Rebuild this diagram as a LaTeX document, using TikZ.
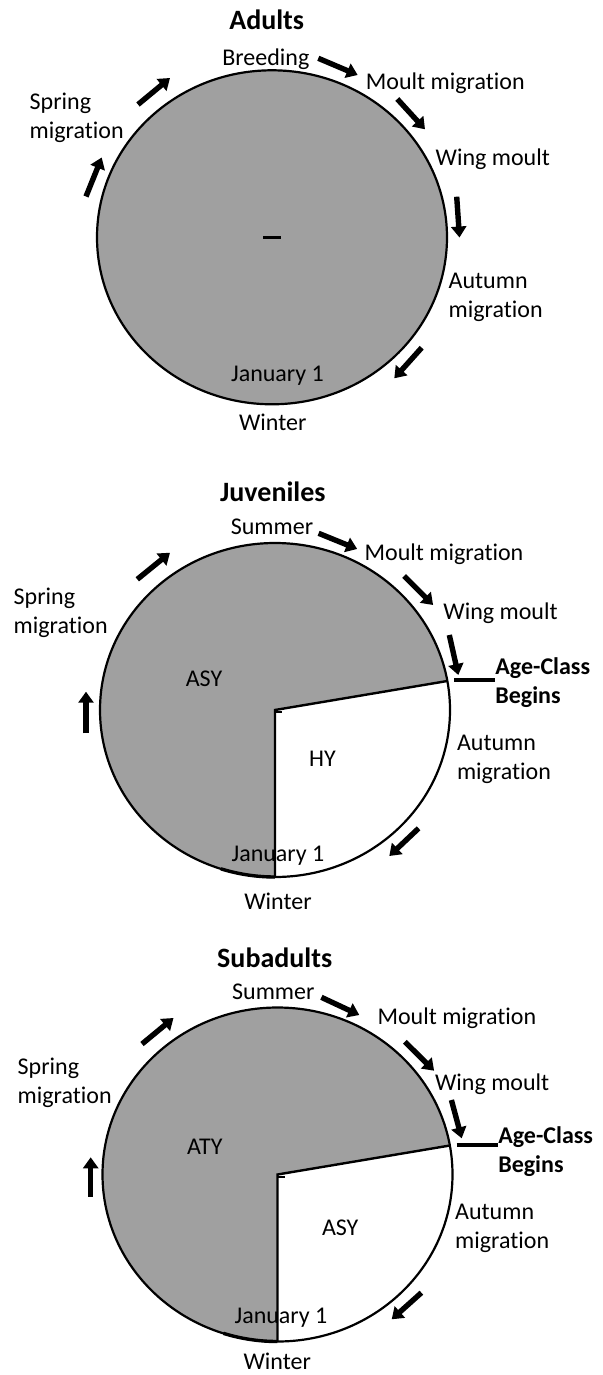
\documentclass[tikz,border=0pt]{standalone}
\usepackage{fontspec}
\setmainfont{Carlito}[Ligatures={NoCommon,NoContextual},Contextuals=NoAlternate]
\usetikzlibrary{arrows.meta}
\definecolor{piegray}{RGB}{160,160,160}
\newcommand{\mig}{migrat\kern0pt ion}
\begin{document}
\begin{tikzpicture}[x=0.5pt,y=-0.5pt,
  lbl/.style={font=\fontsize{12}{14.5}\selectfont, inner sep=0pt, text height=9pt, text depth=3pt},
  bold2/.style={font=\fontsize{12}{14.5}\selectfont\bfseries, inner sep=0pt, align=left, anchor=west},
  two/.style={font=\fontsize{12}{14.5}\selectfont, inner sep=0pt, align=left, anchor=west},
  ttl/.style={font=\fontsize{14}{17}\selectfont\bfseries, inner sep=0pt, text height=10pt, text depth=3pt},
  phase/.style={line width=2.7pt, -{Triangle[length=5.5pt,width=7.5pt]}},
  rim/.style={draw=black, line width=1.1pt},
  pieline/.style={draw=black, line width=1.2pt},
  tick/.style={draw=black, line width=0.8pt},
  ageline/.style={draw=black, line width=2pt}]
\useasboundingbox (0,0) rectangle (603,1375);

% ================= Panel 1: Adults =================
\coordinate (c1) at (272,237.3);
\fill[piegray] (c1) ellipse [x radius=87.5pt, y radius=83.5pt];
\draw[rim] (c1) ellipse [x radius=87.5pt, y radius=83.5pt];
\coordinate (d1a) at (263.3,237.3);
\coordinate (d1b) at (280.7,237.3);
\draw[line width=1.5pt] (d1a) -- (d1b);

\node[ttl] (t1) at (266.7,23) {Adults};
\node[lbl] (br1) at (265.8,59.3) {Breeding};
\node[lbl] (mm1) at (445.3,84) {Moult \mig};
\node[lbl] (wm1) at (492.8,159.3) {Wing moult};
\node[two] (am1) at (448.3,297.7) {Autumn\\\mig};
\node[lbl] (j1) at (277.5,375) {January 1};
\node[lbl] (w1) at (272.8,424) {Winter};
\node[two] (sm1) at (29.3,117.5) {Spring\\\mig};

\coordinate (a1s) at (318.3,58.3);  \coordinate (a1e) at (357.7,75);
\coordinate (a2s) at (397.3,99);    \coordinate (a2e) at (425,129.3);
\coordinate (a3s) at (456.7,196.7); \coordinate (a3e) at (459.5,237.5);
\coordinate (a4s) at (421.7,347.7); \coordinate (a4e) at (394.3,378.3);
\coordinate (a5s) at (86,196.5);    \coordinate (a5e) at (101.7,157.5);
\coordinate (a6s) at (138,104.5);   \coordinate (a6e) at (170,78);
\foreach \i in {1,...,6} {\draw[phase] (a\i s) -- (a\i e);}

% ================= Panel 2: Juveniles =================
\coordinate (c2) at (275,710);
\coordinate (r2) at ([shift={(10:87.5pt and 83.5pt)}]c2);
\coordinate (b2) at ([shift={(-90:87.5pt and 83.5pt)}]c2);
\fill[piegray] (c2) ellipse [x radius=87.5pt, y radius=83.5pt];
\fill[white] (c2) -- (r2) arc[start angle=10, end angle=-90, x radius=87.5pt, y radius=83.5pt] -- cycle;
\draw[pieline] (r2) -- (c2) -- (b2);
\draw[rim] (c2) ellipse [x radius=87.5pt, y radius=83.5pt];
\draw[line width=1.7pt] ([shift={(252:87.5pt and 83.5pt)}]c2) arc[start angle=252, end angle=270, x radius=87.5pt, y radius=83.5pt];
\coordinate (k2a) at (274,711.7); \coordinate (k2b) at (281.7,711.7);
\draw[tick] (k2a) -- (k2b);

\node[ttl] (t2) at (272.9,494) {Juveniles};
\node[lbl] (su2) at (272,528.3) {Summer};
\node[lbl] (mm2) at (444,554.3) {Moult \mig};
\node[lbl] (wm2) at (500.5,613.3) {Wing moult};
\node[bold2] (ac2) at (495,682.5) {Age-Class\\Begins};
\coordinate (l2a) at (454,680);
\draw[ageline] (l2a) -- (ac2.west |- l2a);
\node[lbl] (asy2) at (204,680) {ASY};
\node[lbl] (hy2) at (322.4,760) {HY};
\node[two] (am2) at (456.6,759.5) {Autumn\\\mig};
\node[lbl] (j2) at (278,855) {January 1};
\node[lbl] (w2) at (278,903) {Winter};
\node[two] (sm2) at (13.3,613.3) {Spring\\\mig};

\coordinate (b1s) at (318.6,533.3); \coordinate (b1e) at (357.2,549);
\coordinate (b2s) at (404.1,576);   \coordinate (b2e) at (433.1,605);
\coordinate (b3s) at (449.3,635);   \coordinate (b3e) at (458.3,675);
\coordinate (b4s) at (418.6,828.3); \coordinate (b4e) at (389.3,856);
\coordinate (b5s) at (86,733.3);    \coordinate (b5e) at (86,691.7);
\coordinate (b6s) at (137.3,579.3); \coordinate (b6e) at (170,552.7);
\foreach \i in {1,...,6} {\draw[phase] (b\i s) -- (b\i e);}

% ================= Panel 3: Subadults =================
\coordinate (c3) at (277.5,1174.5);
\coordinate (r3) at ([shift={(10:87.5pt and 83.5pt)}]c3);
\coordinate (b3) at ([shift={(-90:87.5pt and 83.5pt)}]c3);
\fill[piegray] (c3) ellipse [x radius=87.5pt, y radius=83.5pt];
\fill[white] (c3) -- (r3) arc[start angle=10, end angle=-90, x radius=87.5pt, y radius=83.5pt] -- cycle;
\draw[pieline] (r3) -- (c3) -- (b3);
\draw[rim] (c3) ellipse [x radius=87.5pt, y radius=83.5pt];
\draw[line width=1.7pt] ([shift={(252:87.5pt and 83.5pt)}]c3) arc[start angle=252, end angle=270, x radius=87.5pt, y radius=83.5pt];
\coordinate (k3a) at (277.3,1176.7); \coordinate (k3b) at (285,1176.7);
\draw[tick] (k3a) -- (k3b);

\node[ttl] (t3) at (274.7,960) {Subadults};
\node[lbl] (su3) at (273.3,993.3) {Summer};
\node[lbl] (mm3) at (456.9,1018.3) {Moult \mig};
\node[lbl] (wm3) at (492.2,1084.3) {Wing moult};
\node[bold2] (ac3) at (497.9,1151.7) {Age-Class\\Begins};
\coordinate (l3a) at (456.6,1145);
\draw[ageline] (l3a) -- (ac3.west |- l3a);
\node[lbl] (aty3) at (204.9,1148.3) {ATY};
\node[lbl] (asy3) at (340.2,1229.3) {ASY};
\node[two] (am3) at (454.8,1228.7) {Autumn\\\mig};
\node[lbl] (j3) at (281,1317.3) {January 1};
\node[lbl] (w3) at (277.2,1363.3) {Winter};
\node[two] (sm3) at (17.3,1082.8) {Spring\\\mig};

\coordinate (e1s) at (321.4,997.3);  \coordinate (e1e) at (359.3,1015);
\coordinate (e2s) at (404.8,1041.7); \coordinate (e2e) at (434.1,1070.7);
\coordinate (e3s) at (451.4,1100);   \coordinate (e3e) at (461.7,1138.3);
\coordinate (e4s) at (421.4,1292.7); \coordinate (e4e) at (391.7,1319.3);
\coordinate (e5s) at (90.7,1196.7);  \coordinate (e5e) at (90.7,1157.3);
\coordinate (e6s) at (142,1044);     \coordinate (e6e) at (173.5,1018);
\foreach \i in {1,...,6} {\draw[phase] (e\i s) -- (e\i e);}
\end{tikzpicture}
\end{document}
